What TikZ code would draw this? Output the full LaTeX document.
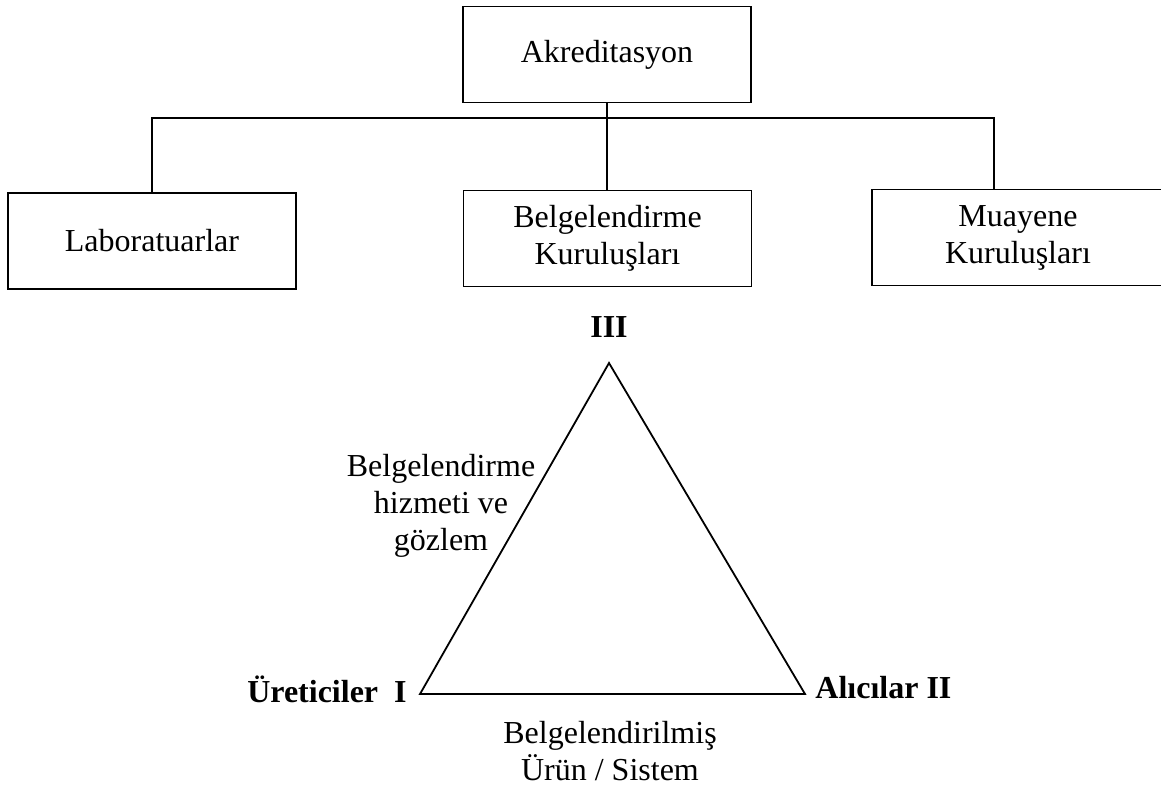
\documentclass[tikz,border=0pt]{standalone}
\usepackage{fontspec}
\setmainfont{Liberation Serif}
\tikzset{
  kutu/.style={draw, line width=0.9pt, minimum width=144pt, minimum height=48pt, align=center, inner sep=0pt},
  etiket/.style={inner sep=0pt, align=center},
  cizgi/.style={line width=0.9pt},
}
\begin{document}
\begin{tikzpicture}[x=0.5pt, y=-0.5pt, font=\fontsize{16pt}{18.5pt}\selectfont]
\useasboundingbox (0,0) rectangle (1161,787);

\node [kutu] (akr) at (607,54.5) {Akreditasyon};
\node [kutu] (lab) at (152,241) {Laboratuarlar};
\node [kutu] (belg) at (607.5,238.5) {Belgelendirme\\Kuruluşları};
\node [kutu, minimum width=146pt] (muay) at (1018,237.5) {Muayene\\Kuruluşları};

\coordinate (sag) at (994,118);
\draw [cizgi] (akr.south) -- (akr.south |- belg.north);
\draw [cizgi] (lab.north) |- (sag) -- (sag |- muay.north);

\coordinate (tepe) at (609,363);
\coordinate (sol) at (420,694);
\coordinate (sagk) at (805,694);
\draw [cizgi] (tepe) -- (sol) -- (sagk) -- cycle;

\node [etiket, anchor=base] (uc) at (609,337) {\textbf{III}};
\node [etiket, anchor=base east] (uretici) at (407,702) {\textbf{Üreticiler\ \ I}};
\node [etiket, anchor=base west] (alici) at (815,698) {\textbf{Alıcılar II}};

\node [etiket] (hizmet) at (441,506) {Belgelendirme\\hizmeti ve\\gözlem};
\node [etiket] (urun) at (610,751) {Belgelendirilmiş\\Ürün / Sistem};

\end{tikzpicture}
\end{document}
